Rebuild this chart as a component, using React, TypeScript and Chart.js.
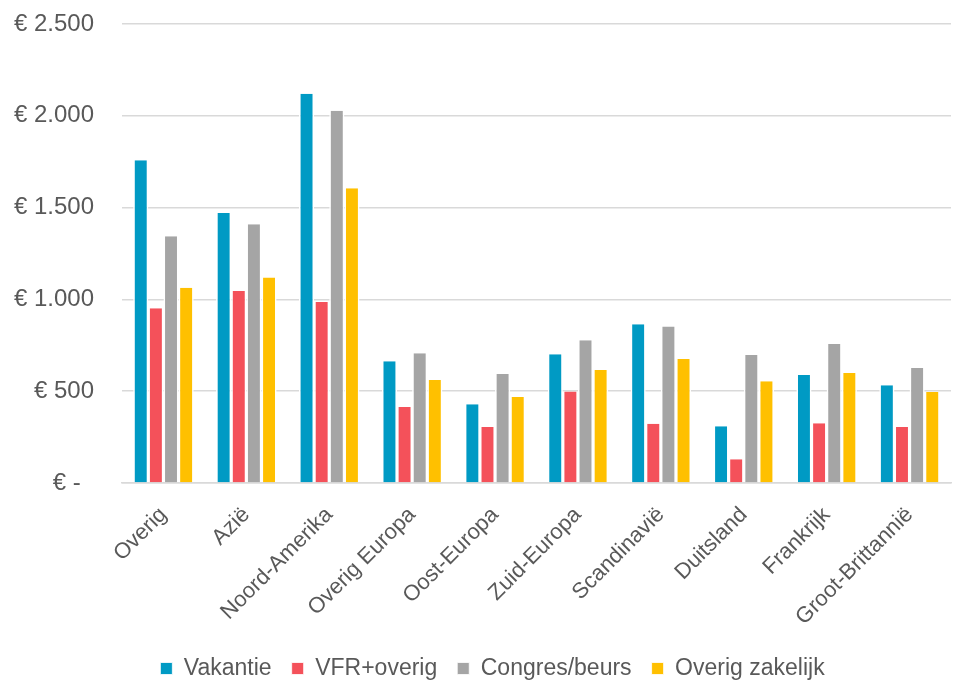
import React, { useEffect, useRef } from "react";
import { Chart, registerables } from "chart.js";

Chart.register(...registerables);

const categories = [
  "Overig",
  "Azië",
  "Noord-Amerika",
  "Overig Europa",
  "Oost-Europa",
  "Zuid-Europa",
  "Scandinavië",
  "Duitsland",
  "Frankrijk",
  "Groot-Brittannië",
];

const vakantie = [1758, 1471, 2120, 663, 429, 701, 865, 309, 588, 532];
const vfrOverig = [952, 1046, 986, 414, 305, 498, 323, 129, 325, 305];
const congresBeurs = [1344, 1409, 2027, 707, 594, 777, 852, 697, 757, 627];
const overigZakelijk = [1064, 1119, 1606, 561, 469, 616, 676, 554, 599, 496];

const seriesNames = ["Vakantie", "VFR+overig", "Congres/beurs", "Overig zakelijk"];
const seriesColors = ["#009AC4", "#F4515A", "#A5A5A5", "#FFC000"];

const yTicks = [0, 500, 1000, 1500, 2000, 2500];

const FONT = "'Liberation Sans', Arial, sans-serif";
const TEXT = "#595959";

function formatEuro(v: number): string {
  if (v === 0) return "€ -  ";
  const s = String(Math.round(v)).replace(/\B(?=(\d{3})+(?!\d))/g, ".");
  return "€ " + s;
}

const legendShift = {
  id: "legendShift",
  afterLayout(chart: any) {
    const lg = chart.legend;
    if (lg) {
      lg.left += 17;
      lg.right += 17;
    }
  },
};

export default function App() {
  const ref = useRef<HTMLCanvasElement | null>(null);

  useEffect(() => {
    document.body.style.margin = "0";
    const canvas = ref.current;
    if (!canvas) return;
    const values = [vakantie, vfrOverig, congresBeurs, overigZakelijk];
    const chart = new Chart(canvas, {
      type: "bar",
      data: {
        labels: categories,
        datasets: values.map((d, i) => ({
          label: seriesNames[i],
          data: d,
          backgroundColor: seriesColors[i],
          borderColor: "#ffffff",
          borderWidth: { left: 1.6, right: 1.6, top: 0, bottom: 0 },
          borderSkipped: false,
          categoryPercentage: 0.73,
          barPercentage: 1,
        })),
      },
      plugins: [legendShift],
      options: {
        animation: false,
        responsive: false,
        maintainAspectRatio: false,
        layout: { padding: { top: 24, right: 2, bottom: -8, left: 0 } },
        plugins: {
          tooltip: { enabled: false },
          legend: {
            position: "bottom",
            labels: {
              font: { family: FONT, size: 23 },
              color: TEXT,
              boxWidth: 12,
              boxHeight: 12,
              padding: 20,
            },
          },
        },
        scales: {
          x: {
            grid: { display: false },
            border: { display: true, color: "#D9D9D9", width: 1.5 },
            ticks: {
              font: { family: FONT, size: 22 },
              color: TEXT,
              maxRotation: 45,
              minRotation: 45,
              autoSkip: false,
              padding: 11,
            },
            afterFit: (scale: any) => {
              scale.height = 154;
            },
          },
          y: {
            min: 0,
            max: 2500,
            afterBuildTicks: (scale: any) => {
              scale.ticks = yTicks.map((v) => ({ value: v }));
            },
            grid: { color: "#D9D9D9", lineWidth: 1.5, drawTicks: false },
            border: { display: false },
            ticks: {
              font: { family: FONT, size: 24 },
              color: TEXT,
              padding: 28,
              callback: (v: any) => formatEuro(Number(v)),
            },
            afterFit: (scale: any) => {
              scale.width = 122;
              scale.paddingTop = 0;
              scale.paddingBottom = 0;
            },
          },
        },
      },
    });
    return () => chart.destroy();
  }, []);

  return (
    <div style={{ width: 953, height: 682, position: "relative", overflow: "hidden", background: "#fff" }}>
      <canvas ref={ref} width={953} height={682} style={{ display: "block" }} />
    </div>
  );
}
